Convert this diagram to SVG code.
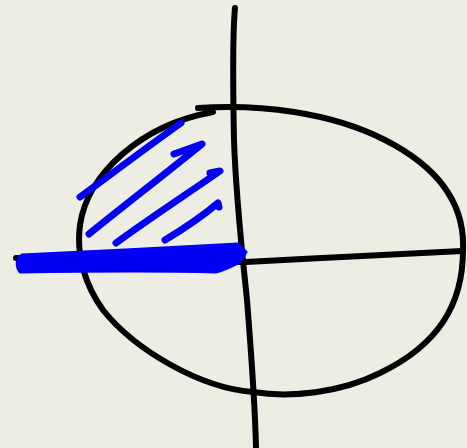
<svg xmlns="http://www.w3.org/2000/svg" width="467" height="448" viewBox="0 0 467 448">
<style>
.ink{fill:none;stroke:#000;stroke-width:6;stroke-linecap:round;stroke-linejoin:round}
.blue{fill:none;stroke:#0000f5;stroke-width:7;stroke-linecap:round;stroke-linejoin:round}
</style>
<rect width="467" height="448" fill="#eeede4"/>
<g id="ellipse">
<path class="ink" d="M198,108 C260,104 330,112 385,140 C440,168 465,205 463,250 C463,305 438,345 380,373 C340,393 290,398 253,392 C200,388 135,350 103,310 C85,285 76,255 80,225 C87,175 140,125 213,112"/>
</g>
<g id="axes">
<path class="ink" d="M235,8 C232,40 233,90 234,140 C236,200 243,260 247,300 C251,350 255,400 256,448"/>
<path class="ink" d="M16,258 C90,260 170,262 246,262 C320,258 400,254 462,251"/>
</g>
<g id="hatch">
<path class="blue" d="M80,197 C110,175 150,145 181,123"/>
<path class="blue" d="M89,234 C125,205 170,170 202,144 L174,154"/>
<path class="blue" d="M116,243 C150,218 190,192 220,171 L210,173"/>
<path class="blue" d="M165,240 C185,228 205,214 218,203 L219,207"/>
<path fill="#0000f5" stroke="#0000f5" stroke-width="3" stroke-linejoin="round" d="M22,255 C90,252 170,248 238,244 L246,252 L240,262 C232,266 225,270 216,272 C150,270 80,271 20,272 C16,266 16,259 22,255 Z"/>
</g>
</svg>
